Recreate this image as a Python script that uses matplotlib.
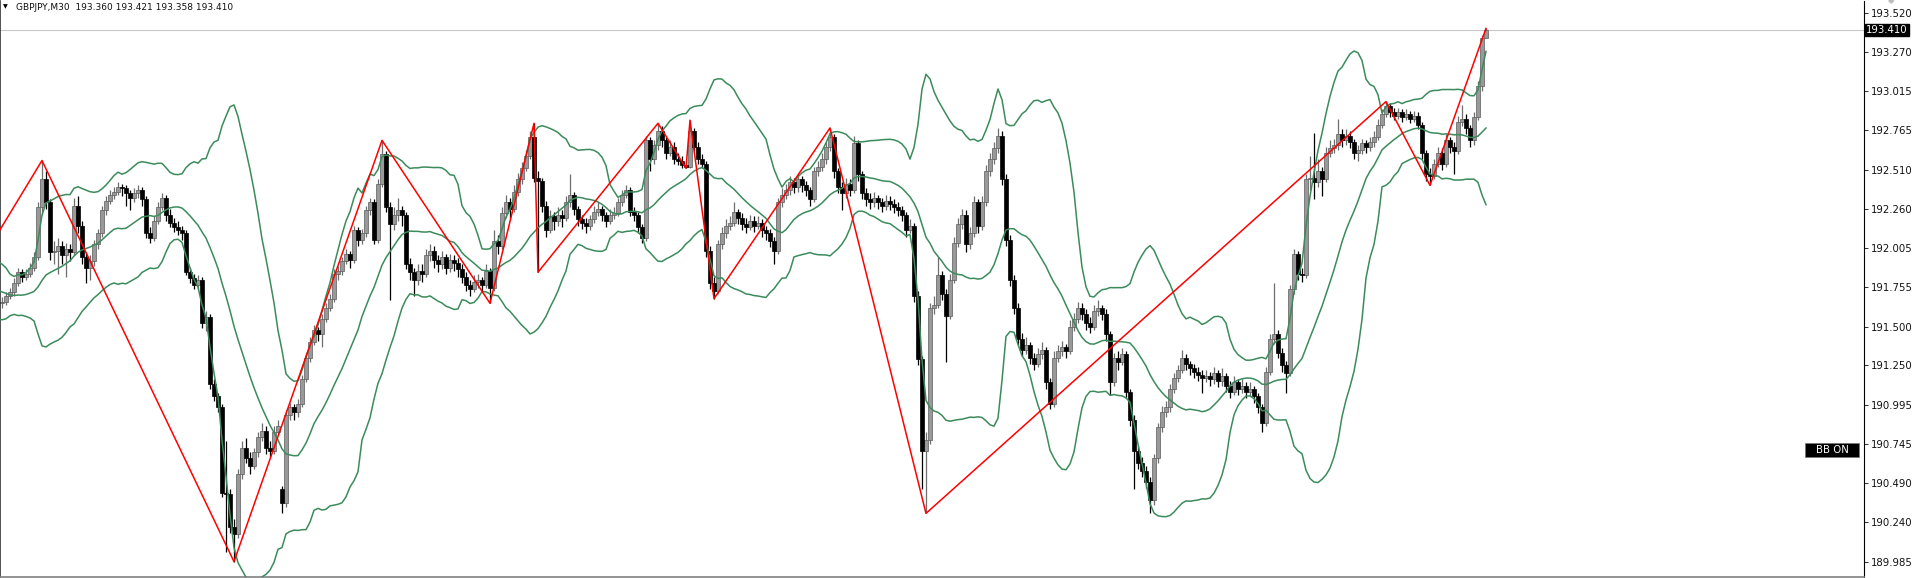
import numpy as np
import pandas as pd
import matplotlib
matplotlib.use("Agg")
import matplotlib.pyplot as plt
from matplotlib.patches import Rectangle
from matplotlib.transforms import blended_transform_factory

# closes of the 20 bars before the first visible one (feed the 20-period bands)
pre_closes = [191.84, 191.88, 191.92, 191.85, 191.80, 191.83, 191.76, 191.70, 191.74, 191.68,
              191.62, 191.60, 191.66, 191.72, 191.75, 191.70, 191.64, 191.62, 191.68, 191.65]

opens = [
    191.65, 191.66, 191.70, 191.72, 191.78, 191.85, 191.82, 191.84, 191.88, 191.95,
    192.27, 192.45, 192.30, 191.98, 191.99, 192.02, 191.96, 192.00, 191.98, 192.28,
    192.15, 191.95, 191.88, 191.92, 192.03, 192.10, 192.25, 192.31, 192.35, 192.37,
    192.40, 192.39, 192.36, 192.33, 192.36, 192.38, 192.32, 192.10, 192.07, 192.18,
    192.27, 192.33, 192.22, 192.17, 192.14, 192.12, 192.10, 191.85, 191.81, 191.77,
    191.80, 191.52, 191.56, 191.13, 191.05, 190.98, 190.43, 190.42, 190.21, 190.16,
    190.55, 190.72, 190.65, 190.60, 190.69, 190.79, 190.83, 190.72, 190.70, 190.82,
    190.45, 190.36, 190.93, 190.98, 190.95, 191.00, 191.16, 191.30, 191.40, 191.48,
    191.45, 191.55, 191.62, 191.68, 191.84, 191.86, 191.92, 191.97, 191.93, 192.12,
    192.06, 192.10, 192.25, 192.30, 192.06, 192.42, 192.61, 192.27, 192.16, 192.22,
    192.25, 192.22, 191.90, 191.85, 191.80, 191.86, 191.84, 191.96, 191.99, 191.93,
    191.90, 191.95, 191.88, 191.93, 191.91, 191.87, 191.82, 191.77, 191.74, 191.79,
    191.80, 191.77, 191.86, 191.75, 192.05, 192.02, 192.23, 192.30, 192.26, 192.37,
    192.45, 192.52, 192.60, 192.72, 192.46, 192.44, 192.28, 192.12, 192.21, 192.18,
    192.22, 192.20, 192.30, 192.35, 192.26, 192.19, 192.17, 192.15, 192.19, 192.24,
    192.26, 192.22, 192.18, 192.22, 192.23, 192.30, 192.35, 192.38, 192.24, 192.22,
    192.14, 192.07, 192.70, 192.58, 192.67, 192.76, 192.70, 192.62, 192.66, 192.58,
    192.57, 192.54, 192.53, 192.76, 192.66, 192.58, 192.55, 191.99, 191.78, 191.73,
    192.03, 192.10, 192.15, 192.17, 192.24, 192.20, 192.16, 192.14, 192.18, 192.15,
    192.17, 192.12, 192.10, 192.05, 191.99, 192.30, 192.35, 192.38, 192.43, 192.40,
    192.45, 192.41, 192.38, 192.32, 192.50, 192.53, 192.58, 192.66, 192.72, 192.50,
    192.40, 192.36, 192.42, 192.38, 192.68, 192.48, 192.36, 192.32, 192.30, 192.33,
    192.30, 192.28, 192.31, 192.29, 192.27, 192.25, 192.22, 192.12, 192.15, 191.70,
    191.29, 190.70, 190.77, 191.62, 191.64, 191.83, 191.71, 191.57, 191.80, 192.04,
    192.16, 192.22, 192.03, 192.10, 192.30, 192.15, 192.30, 192.50, 192.58, 192.65,
    192.73, 192.45, 192.06, 191.80, 191.62, 191.42, 191.35, 191.38, 191.30, 191.26,
    191.32, 191.35, 191.14, 191.00, 191.30, 191.34, 191.37, 191.34, 191.50, 191.55,
    191.62, 191.58, 191.52, 191.50, 191.60, 191.62, 191.58, 191.45, 191.14, 191.30,
    191.27, 191.32, 191.08, 190.90, 190.70, 190.62, 190.57, 190.50, 190.38, 190.65,
    190.85, 190.95, 190.98, 191.10, 191.17, 191.22, 191.30, 191.26, 191.23, 191.21,
    191.19, 191.17, 191.18, 191.16, 191.20, 191.15, 191.18, 191.12, 191.08, 191.14,
    191.10, 191.12, 191.08, 191.10, 191.05, 190.98, 190.88, 191.21, 191.42, 191.45,
    191.33, 191.25, 191.20, 191.74, 191.97, 191.84, 191.83, 192.45, 192.46, 192.43,
    192.50, 192.45, 192.62, 192.65, 192.67, 192.74, 192.70, 192.73, 192.69, 192.62,
    192.64, 192.68, 192.66, 192.69, 192.72, 192.80, 192.87, 192.92, 192.88, 192.86,
    192.88, 192.85, 192.87, 192.84, 192.86, 192.80, 192.62, 192.48, 192.47, 192.55,
    192.62, 192.55, 192.70, 192.66, 192.63, 192.82, 192.84, 192.78, 192.70, 192.85,
    193.05, 193.36,
]

highs = [
    191.69, 191.72, 191.75, 191.81, 191.88, 191.87, 191.87, 191.91, 191.98, 192.30,
    192.57, 192.50, 192.32, 192.05, 192.07, 192.05, 192.04, 192.03, 192.33, 192.34,
    192.18, 191.98, 191.96, 192.06, 192.13, 192.28, 192.34, 192.38, 192.40, 192.43,
    192.42, 192.41, 192.38, 192.39, 192.41, 192.40, 192.34, 192.14, 192.21, 192.30,
    192.36, 192.35, 192.26, 192.20, 192.18, 192.15, 192.12, 191.88, 191.84, 191.83,
    191.82, 191.60, 191.58, 191.16, 191.07, 191.00, 190.76, 190.45, 190.26, 190.58,
    190.76, 190.78, 190.69, 190.72, 190.82, 190.88, 190.86, 190.76, 190.86, 190.90,
    190.47, 190.96, 191.01, 191.00, 191.03, 191.19, 191.33, 191.43, 191.51, 191.50,
    191.58, 191.65, 191.71, 191.87, 191.89, 191.95, 192.00, 191.99, 192.15, 192.14,
    192.13, 192.28, 192.33, 192.32, 192.45, 192.70, 192.63, 192.30, 192.27, 192.33,
    192.28, 192.24, 191.94, 191.88, 191.90, 191.90, 192.00, 192.03, 192.02, 191.96,
    191.99, 191.97, 191.97, 191.96, 191.94, 191.90, 191.85, 191.80, 191.83, 191.84,
    191.82, 191.90, 191.88, 192.12, 192.09, 192.27, 192.35, 192.33, 192.41, 192.49,
    192.56, 192.64, 192.76, 192.81, 192.50, 192.46, 192.31, 192.25, 192.24, 192.27,
    192.25, 192.34, 192.48, 192.37, 192.28, 192.22, 192.20, 192.22, 192.28, 192.30,
    192.28, 192.24, 192.26, 192.27, 192.33, 192.38, 192.41, 192.40, 192.27, 192.24,
    192.16, 192.73, 192.72, 192.70, 192.81, 192.79, 192.72, 192.70, 192.69, 192.62,
    192.60, 192.57, 192.83, 192.78, 192.69, 192.61, 192.57, 192.02, 191.82, 192.06,
    192.14, 192.19, 192.21, 192.30, 192.26, 192.23, 192.20, 192.22, 192.21, 192.21,
    192.19, 192.15, 192.13, 192.08, 192.33, 192.39, 192.42, 192.47, 192.46, 192.49,
    192.47, 192.44, 192.40, 192.53, 192.57, 192.62, 192.69, 192.78, 192.74, 192.52,
    192.43, 192.46, 192.45, 192.73, 192.70, 192.50, 192.39, 192.36, 192.37, 192.35,
    192.33, 192.35, 192.34, 192.32, 192.30, 192.28, 192.24, 192.19, 192.17, 191.73,
    191.31, 190.82, 191.65, 191.70, 191.95, 191.86, 191.74, 191.84, 192.08, 192.20,
    192.26, 192.25, 192.14, 192.34, 192.32, 192.34, 192.54, 192.62, 192.69, 192.78,
    192.76, 192.48, 192.09, 191.83, 191.65, 191.46, 191.43, 191.40, 191.33, 191.36,
    191.40, 191.37, 191.17, 191.34, 191.38, 191.41, 191.39, 191.54, 191.59, 191.66,
    191.65, 191.61, 191.56, 191.64, 191.67, 191.64, 191.61, 191.47, 191.33, 191.34,
    191.36, 191.34, 191.10, 190.93, 190.73, 190.66, 190.60, 190.53, 190.68, 190.88,
    190.99, 191.02, 191.13, 191.20, 191.25, 191.35, 191.32, 191.28, 191.26, 191.24,
    191.22, 191.22, 191.21, 191.24, 191.22, 191.23, 191.20, 191.15, 191.18, 191.16,
    191.16, 191.14, 191.14, 191.12, 191.07, 191.00, 191.24, 191.45, 191.78, 191.48,
    191.36, 191.28, 191.77, 192.00, 191.99, 191.88, 192.48, 192.60, 192.75, 192.58,
    192.53, 192.66, 192.70, 192.71, 192.84, 192.77, 192.77, 192.76, 192.71, 192.67,
    192.71, 192.70, 192.72, 192.76, 192.84, 192.90, 192.95, 192.94, 192.91, 192.91,
    192.90, 192.90, 192.89, 192.89, 192.88, 192.82, 192.64, 192.52, 192.58, 192.66,
    192.65, 192.74, 192.72, 192.69, 192.86, 192.93, 192.87, 192.80, 192.88, 193.08,
    193.38, 193.421,
]

lows = [
    191.62, 191.64, 191.68, 191.70, 191.76, 191.79, 191.80, 191.82, 191.86, 191.93,
    192.22, 192.26, 191.93, 191.90, 191.84, 191.90, 191.82, 191.92, 191.96, 192.10,
    191.90, 191.78, 191.80, 191.89, 192.00, 192.08, 192.22, 192.29, 192.32, 192.35,
    192.34, 192.28, 192.25, 192.30, 192.33, 192.28, 192.07, 192.04, 192.05, 192.16,
    192.25, 192.18, 192.14, 192.11, 192.09, 192.06, 191.83, 191.78, 191.74, 191.74,
    191.49, 191.47, 191.10, 191.02, 190.95, 190.40, 190.05, 190.17, 189.985, 190.14,
    190.52, 190.62, 190.55, 190.58, 190.66, 190.76, 190.68, 190.66, 190.68, 190.80,
    190.30, 190.34, 190.90, 190.90, 190.92, 190.98, 191.14, 191.27, 191.38, 191.41,
    191.37, 191.53, 191.60, 191.66, 191.80, 191.83, 191.90, 191.88, 191.91, 192.02,
    192.03, 192.08, 192.22, 192.03, 192.04, 192.40, 192.24, 191.67, 192.12, 192.18,
    192.15, 191.87, 191.80, 191.70, 191.77, 191.79, 191.82, 191.92, 191.88, 191.85,
    191.87, 191.84, 191.85, 191.86, 191.82, 191.78, 191.73, 191.70, 191.72, 191.75,
    191.72, 191.75, 191.65, 191.73, 191.97, 192.00, 192.20, 192.20, 192.24, 192.34,
    192.42, 192.50, 192.58, 192.43, 191.85, 192.24, 192.08, 192.10, 192.12, 192.15,
    192.14, 192.18, 192.27, 192.22, 192.15, 192.13, 192.10, 192.12, 192.17, 192.21,
    192.18, 192.14, 192.16, 192.19, 192.21, 192.28, 192.33, 192.21, 192.18, 192.10,
    192.04, 192.05, 192.50, 192.55, 192.64, 192.66, 192.58, 192.60, 192.55, 192.54,
    192.52, 192.52, 192.52, 192.63, 192.55, 192.52, 191.95, 191.74, 191.68, 191.71,
    192.00, 192.07, 192.12, 192.15, 192.16, 192.12, 192.10, 192.12, 192.11, 192.13,
    192.08, 192.06, 192.01, 191.90, 191.97, 192.27, 192.32, 192.35, 192.36, 192.37,
    192.37, 192.34, 192.28, 192.30, 192.47, 192.50, 192.55, 192.63, 192.46, 192.36,
    192.25, 192.33, 192.34, 192.36, 192.44, 192.32, 192.28, 192.26, 192.27, 192.26,
    192.24, 192.25, 192.25, 192.23, 192.21, 192.18, 192.08, 192.10, 191.66, 191.25,
    190.45, 190.30, 190.74, 191.58, 191.62, 191.67, 191.27, 191.55, 191.78, 192.01,
    192.13, 191.98, 192.00, 192.08, 192.10, 192.12, 192.28, 192.47, 192.55, 192.62,
    192.41, 192.02, 191.76, 191.58, 191.38, 191.31, 191.32, 191.26, 191.22, 191.24,
    191.29, 191.10, 190.97, 190.98, 191.27, 191.31, 191.30, 191.32, 191.47, 191.52,
    191.54, 191.48, 191.46, 191.48, 191.57, 191.54, 191.41, 191.06, 191.12, 191.22,
    191.25, 191.04, 190.86, 190.45, 190.58, 190.53, 190.46, 190.30, 190.35, 190.62,
    190.82, 190.92, 190.95, 191.07, 191.14, 191.20, 191.22, 191.19, 191.17, 191.15,
    191.07, 191.14, 191.12, 191.13, 191.11, 191.12, 191.08, 191.04, 191.06, 191.06,
    191.07, 191.04, 191.05, 191.01, 190.94, 190.82, 190.86, 191.19, 191.39, 191.30,
    191.21, 191.07, 191.18, 191.71, 191.80, 191.79, 191.81, 192.38, 192.32, 192.40,
    192.34, 192.43, 192.59, 192.62, 192.64, 192.66, 192.67, 192.65, 192.58, 192.57,
    192.61, 192.62, 192.63, 192.66, 192.70, 192.78, 192.85, 192.85, 192.83, 192.84,
    192.82, 192.83, 192.81, 192.82, 192.77, 192.58, 192.44, 192.41, 192.45, 192.53,
    192.51, 192.53, 192.62, 192.48, 192.61, 192.79, 192.74, 192.66, 192.67, 192.83,
    193.02, 193.358,
]

closes = [
    191.66, 191.70, 191.72, 191.78, 191.85, 191.82, 191.84, 191.88, 191.95, 192.27,
    192.45, 192.30, 191.98, 191.99, 192.02, 191.96, 192.00, 191.98, 192.28, 192.15,
    191.95, 191.88, 191.92, 192.03, 192.10, 192.25, 192.31, 192.35, 192.37, 192.40,
    192.39, 192.36, 192.33, 192.36, 192.38, 192.32, 192.10, 192.07, 192.18, 192.27,
    192.33, 192.22, 192.17, 192.14, 192.12, 192.10, 191.85, 191.81, 191.77, 191.80,
    191.52, 191.56, 191.13, 191.05, 190.98, 190.43, 190.42, 190.21, 190.16, 190.55,
    190.72, 190.65, 190.60, 190.69, 190.79, 190.83, 190.72, 190.70, 190.82, 190.86,
    190.36, 190.93, 190.98, 190.95, 191.00, 191.16, 191.30, 191.40, 191.48, 191.45,
    191.55, 191.62, 191.68, 191.84, 191.86, 191.92, 191.97, 191.93, 192.12, 192.06,
    192.10, 192.25, 192.30, 192.06, 192.42, 192.61, 192.27, 192.16, 192.22, 192.25,
    192.22, 191.90, 191.85, 191.80, 191.86, 191.84, 191.96, 191.99, 191.93, 191.90,
    191.95, 191.88, 191.93, 191.91, 191.87, 191.82, 191.77, 191.74, 191.79, 191.80,
    191.77, 191.86, 191.75, 192.05, 192.02, 192.23, 192.30, 192.26, 192.37, 192.45,
    192.52, 192.60, 192.72, 192.46, 192.44, 192.28, 192.12, 192.21, 192.18, 192.22,
    192.20, 192.30, 192.35, 192.26, 192.19, 192.17, 192.15, 192.19, 192.24, 192.26,
    192.22, 192.18, 192.22, 192.23, 192.30, 192.35, 192.38, 192.24, 192.22, 192.14,
    192.07, 192.70, 192.58, 192.67, 192.76, 192.70, 192.62, 192.66, 192.58, 192.57,
    192.54, 192.53, 192.76, 192.66, 192.58, 192.55, 191.99, 191.78, 191.73, 192.03,
    192.10, 192.15, 192.17, 192.24, 192.20, 192.16, 192.14, 192.18, 192.15, 192.17,
    192.12, 192.10, 192.05, 191.99, 192.30, 192.35, 192.38, 192.43, 192.40, 192.45,
    192.41, 192.38, 192.32, 192.50, 192.53, 192.58, 192.66, 192.72, 192.50, 192.40,
    192.36, 192.42, 192.38, 192.68, 192.48, 192.36, 192.32, 192.30, 192.33, 192.30,
    192.28, 192.31, 192.29, 192.27, 192.25, 192.22, 192.12, 192.15, 191.70, 191.29,
    190.70, 190.77, 191.62, 191.64, 191.83, 191.71, 191.57, 191.80, 192.04, 192.16,
    192.22, 192.03, 192.10, 192.30, 192.15, 192.30, 192.50, 192.58, 192.65, 192.73,
    192.45, 192.06, 191.80, 191.62, 191.42, 191.35, 191.38, 191.30, 191.26, 191.32,
    191.35, 191.14, 191.00, 191.30, 191.34, 191.37, 191.34, 191.50, 191.55, 191.62,
    191.58, 191.52, 191.50, 191.60, 191.62, 191.58, 191.45, 191.14, 191.30, 191.27,
    191.32, 191.08, 190.90, 190.70, 190.62, 190.57, 190.50, 190.38, 190.65, 190.85,
    190.95, 190.98, 191.10, 191.17, 191.22, 191.30, 191.26, 191.23, 191.21, 191.19,
    191.17, 191.18, 191.16, 191.20, 191.15, 191.18, 191.12, 191.08, 191.14, 191.10,
    191.12, 191.08, 191.10, 191.05, 190.98, 190.88, 191.21, 191.42, 191.45, 191.33,
    191.25, 191.20, 191.74, 191.97, 191.84, 191.83, 192.45, 192.46, 192.43, 192.50,
    192.45, 192.62, 192.65, 192.67, 192.74, 192.70, 192.73, 192.69, 192.62, 192.64,
    192.68, 192.66, 192.69, 192.72, 192.80, 192.87, 192.92, 192.88, 192.86, 192.88,
    192.85, 192.87, 192.84, 192.86, 192.80, 192.62, 192.48, 192.47, 192.55, 192.62,
    192.55, 192.70, 192.66, 192.63, 192.82, 192.84, 192.78, 192.70, 192.85, 193.05,
    193.36, 193.41,
]

# zigzag pivots (bar index, price)
zz_bars = [-10, 10, 58, 95, 122, 133, 134, 164, 171, 172, 178, 207, 231, 346, 357, 371]
zz_prices = [191.72, 192.57, 189.985, 192.70, 191.65, 192.81, 191.85, 192.81,
             192.52, 192.83, 191.68, 192.78, 190.296, 192.95, 192.41, 193.421]

price_ticks = [193.520, 193.270, 193.015, 192.765, 192.510, 192.260, 192.005, 191.755,
               191.500, 191.250, 190.995, 190.745, 190.490, 190.240, 189.985]
header = "GBPJPY,M30  193.360 193.421 193.358 193.410"
last_price = 193.410

plt.rcParams["font.family"] = "DejaVu Sans"

fig = plt.figure(figsize=(19.15, 5.78), dpi=100)
ax = fig.add_axes([0, 1 / 578, 1864 / 1915, 576 / 578])

o = np.array(opens)
h = np.array(highs)
l = np.array(lows)
c = np.array(closes)
x = np.arange(len(c))
up = c >= o
body_lo = np.minimum(o, c)
body_h = np.maximum(np.abs(c - o), 0.004)

# candles
ax.vlines(x[up], l[up], h[up], color="#6e6e6e", lw=0.9, zorder=2)
ax.vlines(x[~up], l[~up], h[~up], color="black", lw=0.9, zorder=2)
ax.bar(x[up], body_h[up], bottom=body_lo[up], width=0.8, color="#999999",
       edgecolor="#5c5c5c", lw=0.5, zorder=2)
ax.bar(x[~up], body_h[~up], bottom=body_lo[~up], width=0.8, color="black",
       edgecolor="black", lw=0.5, zorder=2)

# bollinger bands 20, 2
s = pd.Series(pre_closes + closes, index=np.arange(-len(pre_closes), len(closes)))
mid = s.rolling(20).mean()
dev = s.rolling(20).std(ddof=0)
for band in (mid + 2 * dev, mid, mid - 2 * dev):
    ax.plot(band.index, band.values, color="#3b8b5b", lw=1.1, zorder=3)

# zigzag
ax.plot(zz_bars, zz_prices, color="#ff0000", lw=1.1, zorder=4)

# bid line
ax.axhline(last_price, color="#c8c8c8", lw=0.8, zorder=1)

ax.set_xlim(-0.5, 465.5)
ax.set_ylim(189.886, 193.598)
ax.set_xticks([])
ax.yaxis.tick_right()
ax.set_yticks(price_ticks)
ax.set_yticklabels([f"{v:.3f}" for v in price_ticks])
ax.tick_params(axis="y", direction="out", length=3, width=0.6, labelsize=7.3,
               pad=2, colors="#111111")
ax.spines["top"].set_visible(False)
ax.spines["left"].set_color("#333333")
ax.spines["left"].set_linewidth(1.2)
ax.spines["right"].set_color("black")
ax.spines["right"].set_linewidth(0.8)
ax.spines["bottom"].set_color("#808080")
ax.spines["bottom"].set_linewidth(1.2)

trans = blended_transform_factory(ax.transAxes, ax.transData)
ax.text(1.0012, last_price, f"{last_price:.3f}", transform=trans, fontsize=7.3,
        color="white", va="center", ha="left", zorder=6,
        bbox=dict(boxstyle="square,pad=0.12", fc="black", ec="black"))

# header
fig.text(3 / 1915, 1 - 7 / 578, "\u25bc", fontsize=4.5, color="black", va="center")
fig.text(16 / 1915, 1 - 7 / 578, header, fontsize=6.5, color="#111111", va="center")

# BB ON button
fig.patches.append(Rectangle((1805 / 1915, 1 - 457 / 578), 54 / 1915, 14 / 578,
                             transform=fig.transFigure, fc="black", ec="#777777", lw=0.5))
fig.text(1832 / 1915, 1 - 450 / 578, "BB ON", fontsize=7.3, color="white",
         ha="center", va="center")
fig.text(1891 / 1915, 1 - 1 / 578, "\u25c6", fontsize=6, color="#bbbbbb",
         ha="center", va="center")

fig.savefig("out.png", dpi=100)
